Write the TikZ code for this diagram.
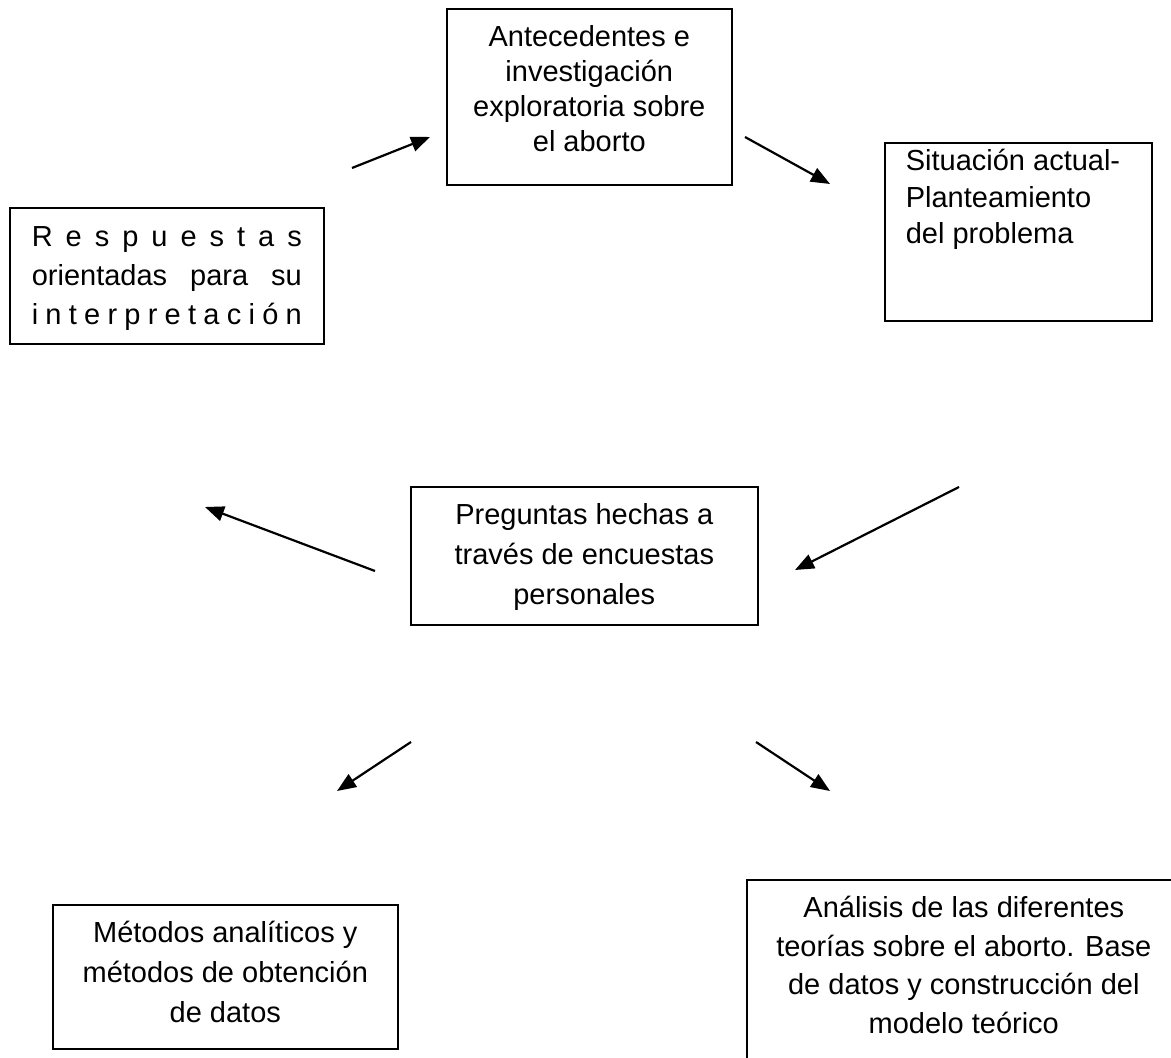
\documentclass[tikz,border=0pt]{standalone}
\usepackage{fontspec}
\setmainfont{Liberation Sans}
\usetikzlibrary{arrows.meta}

\tikzset{
  caja/.style={draw, line width=0.8pt, inner sep=0pt, anchor=north west},
  flecha/.style={-{Triangle[length=9.5pt,width=7.5pt]}, line width=1.1pt},
}

\begin{document}
\begin{tikzpicture}[x=0.5pt, y=-0.5pt, font=\fontsize{14.5}{20}\selectfont]
\useasboundingbox (0,0) rectangle (1171,1058);
\clip (0,0) rectangle (1171,1058);

% cajas
\node[caja] (antecedentes) at (446,8) {\parbox[c][88pt][t]{142.5pt}{\fontsize{14.5}{17.5}\selectfont\centering
  \vspace*{5pt}\rule{0pt}{14pt}Antecedentes e\\ investigación\\ exploratoria sobre\\ el aborto}};
\node[caja] (situacion) at (884,142) {\parbox[c][89pt][t]{133.5pt}{\fontsize{14.5}{18.25}\selectfont\raggedright\leftskip=10.5pt
  \rule{0pt}{14pt}Situación actual-\\ Planteamiento\\ del problema}};
\node[caja] (respuestas) at (9,207) {\parbox[c][68pt][t]{157pt}{\fontsize{14.5}{19.5}\selectfont\centering\spaceskip=0pt plus 1fil
  \vspace*{5.5pt}\rule{0pt}{14pt}\makebox[135pt][s]{R e s p u e s t a s}\\ \makebox[135pt][s]{orientadas para su}\\ \makebox[135pt][s]{i n t e r p r e t a c i ó n}}};
\node[caja] (preguntas) at (410,486) {\parbox[c][69pt][t]{173.5pt}{\centering
  \vspace*{5pt}\rule{0pt}{14pt}Preguntas hechas a\\ través de encuestas\\ personales}};
\node[caja] (metodos) at (52,904) {\parbox[c][72pt][t]{172.5pt}{\centering
  \vspace*{5pt}\rule{0pt}{14pt}Métodos analíticos y\\ métodos de obtención\\ de datos}};
\node[caja] (analisis) at (746,879) {\parbox[c][100pt][t]{217pt}{\fontsize{14.5}{19.25}\selectfont\centering
  \vspace*{5pt}\rule{0pt}{14pt}Análisis de las diferentes\\ teorías sobre el aborto. Base\\ de datos y construcción del\\ modelo teórico}};

% flechas
\foreach \n/\xa/\ya/\xb/\yb in {1/352/168/430/137, 2/745/137/830/184, 3/959/487/795/570,
  4/375/571/205/507, 5/411/742/337/791, 6/756/742/830/791}{
  \coordinate (ini\n) at (\xa,\ya);
  \coordinate (fin\n) at (\xb,\yb);
  \draw[flecha] (ini\n) -- (fin\n);
}
\end{tikzpicture}
\end{document}
